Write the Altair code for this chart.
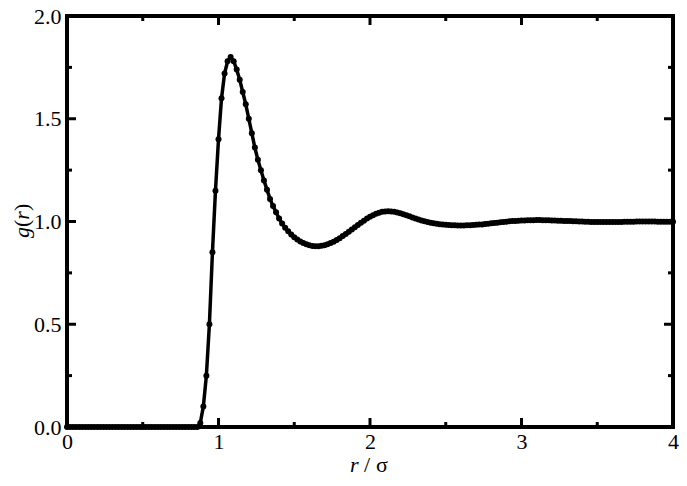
import altair as alt
import pandas as pd

# ---- data ----
# r sampled every 0.02 sigma; g(r) is zero below r = 0.86
g_core = [0.0] * 43  # r = 0.00 .. 0.84
g_rest = [
    0.00, 0.02, 0.10, 0.25, 0.50, 0.85, 1.15, 1.40, 1.60, 1.72,   # 0.86-1.04
    1.78, 1.80, 1.78, 1.74, 1.69, 1.63, 1.57, 1.50, 1.43, 1.36,   # 1.06-1.24
    1.30, 1.25, 1.20, 1.155, 1.11, 1.075, 1.045, 1.015, 0.99, 0.97,  # 1.26-1.44
    0.952, 0.937, 0.923, 0.912, 0.903, 0.895, 0.889, 0.884, 0.881, 0.880,  # 1.46-1.64
    0.880, 0.882, 0.885, 0.889, 0.895, 0.902, 0.910, 0.919, 0.929, 0.939,  # 1.66-1.84
    0.950, 0.961, 0.972, 0.983, 0.994, 1.004, 1.014, 1.023, 1.031, 1.038,  # 1.86-2.04
    1.043, 1.047, 1.049, 1.050, 1.049, 1.047, 1.044, 1.040, 1.035, 1.030,  # 2.06-2.24
    1.025, 1.020, 1.015, 1.010, 1.005, 1.001, 0.997, 0.994, 0.991, 0.989,  # 2.26-2.44
    0.987, 0.985, 0.984, 0.983, 0.982, 0.982, 0.981, 0.981, 0.981, 0.982,  # 2.46-2.64
    0.982, 0.983, 0.984, 0.985, 0.986, 0.988, 0.989, 0.991, 0.993, 0.994,  # 2.66-2.84
    0.996, 0.998, 0.999, 1.001, 1.002, 1.003, 1.004, 1.005, 1.005, 1.006,  # 2.86-3.04
    1.006, 1.006, 1.007, 1.007, 1.006, 1.006, 1.006, 1.005, 1.005, 1.004,  # 3.06-3.24
    1.004, 1.003, 1.003, 1.002, 1.001, 1.001, 1.000, 1.000, 0.999, 0.999,  # 3.26-3.44
    0.998, 0.998, 0.998, 0.997, 0.997, 0.997, 0.997, 0.998, 0.998, 0.998,  # 3.46-3.64
    0.998, 0.999, 0.999, 0.999, 0.999, 1.000, 1.000, 1.000, 1.000, 1.000,  # 3.66-3.84
    1.000, 1.000, 0.999, 0.999, 0.999, 0.999, 0.999, 0.999,              # 3.86-4.00
]
g_values = g_core + g_rest
r_values = [round(0.02 * i, 2) for i in range(len(g_values))]

x_label_values = [0, 1, 2, 3, 4]
y_label_values = [0.0, 0.5, 1.0, 1.5, 2.0]
x_major = [1, 2, 3]
x_minor = [0.5, 1.5, 2.5, 3.5]
y_major = [0.5, 1.0, 1.5]
y_minor = [0.25, 0.75, 1.25, 1.75]

# ---- layout ----
W, H = 606, 411
FONT = "Liberation Serif"
FS = 22
MAJ, MIN = 9, 5

xscale = alt.Scale(domain=[0, 4], nice=False, zero=False)
yscale = alt.Scale(domain=[0, 2], nice=False, zero=False)

xaxis = alt.Axis(values=x_label_values, format="d", title=None, domain=False,
                 ticks=False, tickSize=0, grid=False, labelFont=FONT,
                 labelFontSize=FS, labelPadding=4, labelFlush=False,
                 labelOverlap=False, labelColor="black")
yaxis = alt.Axis(values=y_label_values, format=".1f", title=None, domain=False,
                 ticks=False, tickSize=0, grid=False, labelFont=FONT,
                 labelFontSize=FS, labelPadding=6, labelFlush=False,
                 labelOverlap=False, labelColor="black")

df = pd.DataFrame({"r": r_values, "g": g_values})
base = alt.Chart(df).encode(
    x=alt.X("r:Q", scale=xscale, axis=xaxis),
    y=alt.Y("g:Q", scale=yscale, axis=yaxis),
)
line = base.mark_line(color="black", strokeWidth=3.5)
pts = base.mark_circle(color="black", size=36, opacity=1)


def xticks(vals, length, top):
    y0, y1 = (0, length) if top else (H, H - length)
    return alt.Chart(pd.DataFrame({"r": vals})).mark_rule(
        color="black", strokeWidth=3).encode(
        x=alt.X("r:Q", scale=xscale, axis=xaxis),
        y=alt.value(y0), y2=alt.value(y1))


def yticks(vals, length, right):
    x0, x1 = (W, W - length) if right else (0, length)
    return alt.Chart(pd.DataFrame({"g": vals})).mark_rule(
        color="black", strokeWidth=3).encode(
        y=alt.Y("g:Q", scale=yscale, axis=yaxis),
        x=alt.value(x0), x2=alt.value(x1))


def txt(s, x, y, italic, angle=0):
    kw = dict(text=s, font=FONT, fontSize=FS, align="left",
              baseline="alphabetic", color="black",
              fontStyle="italic" if italic else "normal")
    if angle:
        kw["angle"] = angle
    return alt.Chart(pd.DataFrame({"t": [s]})).mark_text(**kw).encode(
        x=alt.value(x), y=alt.value(y))


tick_layers = [
    xticks(x_major, MAJ, False), xticks(x_major, MAJ, True),
    xticks(x_minor, MIN, False), xticks(x_minor, MIN, True),
    yticks(y_major, MAJ, False), yticks(y_major, MAJ, True),
    yticks(y_minor, MIN, False), yticks(y_minor, MIN, True),
]

# axis titles: x  "r / σ" (r italic), y  "g(r)" (g and r italic), rotated
title_layers = [
    txt("r", 283, 456, True),
    txt("/", 297, 456, False),
    txt("σ", 309, 456, False),
    txt("g", -38, 222, True, 270),
    txt("(", -38, 211, False, 270),
    txt("r", -38, 203.7, True, 270),
    txt(")", -38, 195.1, False, 270),
]

chart = alt.layer(line, pts, *tick_layers, *title_layers).properties(
    width=W, height=H,
    autosize=alt.AutoSizeParams(type="none"),
    padding={"left": 59, "top": 8, "right": 6, "bottom": 47},
).configure_view(stroke="black", strokeWidth=4)

chart.save("out.html", embed_options={"renderer": "svg", "actions": False})
